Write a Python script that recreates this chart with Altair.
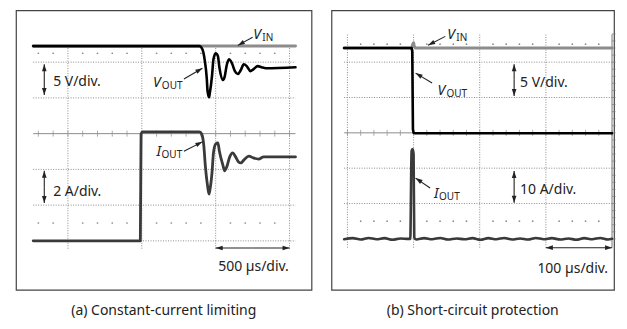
import math
import altair as alt
import pandas as pd

FONT = "Noto Sans"
INK = "#222222"
GRID = "#8c8c8c"

# ---------------- Panel (a): constant-current limiting (units: screen divisions) ----------------
a_vin_x = [-0.47, 3.08]
a_vin_y = [5.45, 5.45]
a_vout_x = [-0.47, 1.78, 1.82, 1.85, 1.88, 1.89, 1.91, 1.92, 1.95, 1.97, 2.00, 2.03, 2.05, 2.10, 2.12,
            2.15, 2.18, 2.22, 2.26, 2.30, 2.34, 2.38, 2.42, 2.47, 2.51, 2.57, 2.62, 2.68, 3.08]
a_vout_y = [5.45, 5.45, 5.36, 5.08, 4.53, 4.19, 4.02, 4.13, 4.61, 5.08, 5.25, 5.17, 4.86, 4.50, 4.58,
            4.92, 5.08, 4.97, 4.75, 4.67, 4.78, 4.94, 4.89, 4.75, 4.80, 4.89, 4.86, 4.83, 4.86]
a_iout_x = [-0.47, 0.98, 0.99, 1.01, 1.78, 1.81, 1.84, 1.86, 1.89, 1.91, 1.92, 1.95, 1.97, 2.00, 2.03,
            2.05, 2.10, 2.12, 2.15, 2.19, 2.23, 2.27, 2.31, 2.34, 2.38, 2.45, 2.51, 2.58, 2.65, 3.08]
a_iout_y = [0.0, 0.0, 2.99, 3.05, 3.05, 2.99, 2.65, 2.10, 1.54, 1.31, 1.40, 1.90, 2.46, 2.71, 2.74,
            2.51, 2.10, 1.96, 2.07, 2.35, 2.46, 2.35, 2.21, 2.18, 2.26, 2.37, 2.32, 2.29, 2.35, 2.35]

# ---------------- Panel (b): short-circuit protection ----------------
b_vin_x = [-0.05, 0.97, 0.99, 1.00, 1.01, 1.03, 4.00]
b_vin_y = [5.40, 5.40, 5.52, 5.55, 5.45, 5.40, 5.40]
b_vout_x = [-0.05, 0.97, 0.98, 0.99, 1.00, 1.02, 4.00]
b_vout_y = [5.40, 5.40, 5.30, 3.10, 3.00, 2.99, 2.99]
b_iout_x = [-0.05, 0.08, 0.20, 0.32, 0.44, 0.56, 0.68, 0.80, 0.92, 0.95, 0.97, 0.985, 1.00, 1.01,
            1.04, 1.16, 1.28, 1.40, 1.52, 1.65, 1.77, 1.89, 2.01, 2.13, 2.25, 2.37, 2.49, 2.61, 2.73,
            2.85, 2.97, 3.09, 3.22, 3.34, 3.46, 3.58, 3.70, 3.82, 3.94, 4.00]
b_iout_y = [-0.01, 0.02, -0.02, 0.025, -0.01, 0.02, -0.025, 0.01, 0.0, 0.0, 2.49, 2.54, 2.40, 0.04,
            -0.02, 0.02, -0.01, 0.025, -0.02, 0.01, -0.01, 0.02, -0.025, 0.02, -0.01, 0.025, -0.02,
            0.01, -0.02, 0.025, -0.01, 0.02, -0.02, 0.01, -0.025, 0.02, -0.01, 0.025, -0.02, 0.0]

captions = ["(a) Constant-current limiting", "(b) Short-circuit protection"]

PANELS = [
    dict(
        W=296, H=280, xdom=[-0.703, 3.297], ydom=[-1.369, 6.453],
        traces=[(a_vin_x, a_vin_y, "#8c8c8c", 3.0, "linear"),
                (a_iout_x, a_iout_y, "#3a3a3a", 2.8, "monotone"),
                (a_vout_x, a_vout_y, "#000000", 2.6, "monotone")],
        hlines=[0, 1, 2, 4, 5], hx=[-0.47, 3.08],
        vlines=[0, 1, 2, 3], vy=[-0.22, 5.45],
        tickrow=3, tickx=[-0.4, 3.0], dotrows=[0.5, 5.25], dotx=[-0.4, 3.0],
        rightaxis=None,
        vlabels=[("V", "IN", 2.51, 5.64), ("V", "OUT", 1.15, 4.30)],
        ilabels=[("I", "OUT", 1.20, 2.37)],
        texts=[("5 V/div.", -0.2, 4.33, "left"), ("2 A/div.", -0.2, 1.26, "left"),
               ("500 µs/div.", 2.99, -0.84, "right")],
        arrows=[(2.50, 5.70, 2.30, 5.47), (1.57, 4.53, 1.82, 4.83),
                (1.57, 2.51, 1.82, 2.77),
                (-0.32, 4.50, -0.32, 4.94), (-0.32, 4.50, -0.32, 4.08),
                (-0.32, 1.50, -0.32, 1.96), (-0.32, 1.50, -0.32, 1.06),
                (2.5, -0.20, 2.0, -0.20), (2.5, -0.20, 3.0, -0.20)],
        caption=captions[0],
    ),
    dict(
        W=283, H=280, xdom=[-0.2415, 4.03], ydom=[-1.441, 6.469],
        traces=[(b_vin_x, b_vin_y, "#8c8c8c", 3.0, "linear"),
                (b_iout_x, b_iout_y, "#3a3a3a", 2.6, "monotone"),
                (b_vout_x, b_vout_y, "#000000", 2.6, "linear")],
        hlines=[0, 1, 2, 4, 5], hx=[-0.05, 4.0],
        vlines=[0, 1, 2, 3], vy=[-0.25, 5.79],
        tickrow=3, tickx=[0.0, 4.0], dotrows=[0.5, 5.51], dotx=[0.0, 4.0],
        rightaxis=(4.0, -0.25, 5.79),
        vlabels=[("V", "IN", 1.51, 5.65), ("V", "OUT", 1.36, 4.07)],
        ilabels=[("I", "OUT", 1.31, 1.16)],
        texts=[("5 V/div.", 2.61, 4.29, "left"), ("10 A/div.", 2.61, 1.27, "left"),
               ("100 µs/div.", 3.94, -0.96, "right")],
        arrows=[(1.48, 5.73, 1.22, 5.48), (1.28, 4.41, 1.03, 4.69),
                (1.25, 1.44, 1.03, 1.72),
                (2.52, 4.50, 2.52, 4.94), (2.52, 4.50, 2.52, 4.04),
                (2.52, 1.47, 2.52, 1.92), (2.52, 1.47, 2.52, 1.02),
                (3.5, -0.25, 3.0, -0.25), (3.5, -0.25, 4.0, -0.25)],
        caption=captions[1],
    ),
]

ARROW_SHAPE = "M0,0L0.8,2.4L-0.8,2.4Z"


def steps(lo, hi, step=0.2):
    n = int(round((hi - lo) / step))
    return [round(lo + i * step, 3) for i in range(n + 1)]


def panel(P):
    xs = alt.Scale(domain=P["xdom"], nice=False, zero=False)
    ys = alt.Scale(domain=P["ydom"], nice=False, zero=False)
    kx = P["W"] / (P["xdom"][1] - P["xdom"][0])
    ky = P["H"] / (P["ydom"][1] - P["ydom"][0])

    def X(f):
        return alt.X(f, type="quantitative", scale=xs, axis=None)

    def Y(f):
        return alt.Y(f, type="quantitative", scale=ys, axis=None)

    layers = []
    hdf = pd.DataFrame({"y": P["hlines"], "xa": P["hx"][0], "xb": P["hx"][1]})
    layers.append(alt.Chart(hdf).mark_rule(color=GRID, strokeWidth=1, strokeDash=[1, 1.5])
                  .encode(x=X("xa"), x2="xb", y=Y("y")))
    vdf = pd.DataFrame({"x": P["vlines"], "ya": P["vy"][0], "yb": P["vy"][1]})
    layers.append(alt.Chart(vdf).mark_rule(color=GRID, strokeWidth=1, strokeDash=[1, 1.5])
                  .encode(x=X("x"), y=Y("ya"), y2="yb"))
    tdf = pd.DataFrame({"y": [P["tickrow"]], "xa": [P["hx"][0]], "xb": [P["hx"][1]]})
    layers.append(alt.Chart(tdf).mark_rule(color=GRID, strokeWidth=1)
                  .encode(x=X("xa"), x2="xb", y=Y("y")))
    tk = pd.DataFrame({"x": steps(*P["tickx"]), "y": P["tickrow"]})
    layers.append(alt.Chart(tk).mark_point(shape="M0,-1L0,1", size=36, filled=False,
                                           stroke=GRID, strokeWidth=1)
                  .encode(x=X("x"), y=Y("y")))
    dx = [v for v in steps(*P["dotx"]) if abs(v - round(v)) > 1e-6]
    drows = [{"x": v, "y": r} for r in P["dotrows"] for v in dx]
    layers.append(alt.Chart(pd.DataFrame(drows)).mark_circle(size=3, color="#8a8a8a", opacity=1)
                  .encode(x=X("x"), y=Y("y")))
    if P["rightaxis"]:
        ax, ya, yb = P["rightaxis"]
        layers.append(alt.Chart(pd.DataFrame({"x": [ax], "ya": [ya], "yb": [yb]}))
                      .mark_rule(color="#777777", strokeWidth=1)
                      .encode(x=X("x"), y=Y("ya"), y2="yb"))
        rt = pd.DataFrame({"y": steps(0.0, 5.8), "x": ax})
        layers.append(alt.Chart(rt).mark_point(shape="M0,0L1,0", size=49, filled=False,
                                               stroke="#777777", strokeWidth=1)
                      .encode(x=X("x"), y=Y("y")))
    for tx, ty, col, w, interp in P["traces"]:
        df = pd.DataFrame({"x": tx, "y": ty, "i": list(range(len(tx)))})
        layers.append(alt.Chart(df).mark_line(color=col, strokeWidth=w, strokeJoin="round",
                                              strokeCap="round", interpolate=interp)
                      .encode(x=X("x"), y=Y("y"), order="i:Q"))
    rows, heads = [], []
    for x1, y1, x2, y2 in P["arrows"]:
        rows.append({"x1": x1, "y1": y1, "x2": x2, "y2": y2})
        ang = math.degrees(math.atan2((x2 - x1) * kx, (y2 - y1) * ky)) % 360
        heads.append({"x": x2, "y": y2, "a": ang})
    layers.append(alt.Chart(pd.DataFrame(rows)).mark_rule(color=INK, strokeWidth=1.1)
                  .encode(x=X("x1"), y=Y("y1"), x2="x2", y2="y2"))
    layers.append(alt.Chart(pd.DataFrame(heads)).mark_point(shape=ARROW_SHAPE, size=34, filled=True,
                                                            color=INK, opacity=1, strokeWidth=0)
                  .encode(x=X("x"), y=Y("y"), angle=alt.Angle("a:Q", scale=None)))
    for t, x, y, al in P["texts"]:
        layers.append(alt.Chart(pd.DataFrame({"x": [x], "y": [y], "t": [t]}))
                      .mark_text(align=al, baseline="alphabetic", font=FONT, fontSize=14, color=INK)
                      .encode(x=X("x"), y=Y("y"), text="t:N"))
    for labs, sdx in ((P["vlabels"], 9), (P["ilabels"], 5)):
        ldf = pd.DataFrame([{"m": m, "s": s, "x": x, "y": y} for m, s, x, y in labs])
        layers.append(alt.Chart(ldf).mark_text(align="left", baseline="alphabetic", font=FONT,
                                               fontSize=14, fontStyle="italic", color=INK)
                      .encode(x=X("x"), y=Y("y"), text="m:N"))
        layers.append(alt.Chart(ldf).mark_text(align="left", baseline="alphabetic", font=FONT,
                                               fontSize=10, color=INK, dx=sdx, dy=2)
                      .encode(x=X("x"), y=Y("y"), text="s:N"))

    return alt.layer(*layers).properties(
        width=P["W"], height=P["H"],
        title=alt.TitleParams(P["caption"], orient="bottom", anchor="middle", font=FONT,
                              fontSize=14, fontWeight="normal", color=INK, offset=14),
    )


chart = (
    alt.hconcat(*[panel(P) for P in PANELS], spacing=18)
    .properties(padding={"left": 7, "top": 1, "right": 0, "bottom": 0}, background="white")
    .configure_view(stroke="#444444", strokeWidth=1.2)
)

chart.save("out.html", embed_options={"renderer": "svg", "actions": False})
